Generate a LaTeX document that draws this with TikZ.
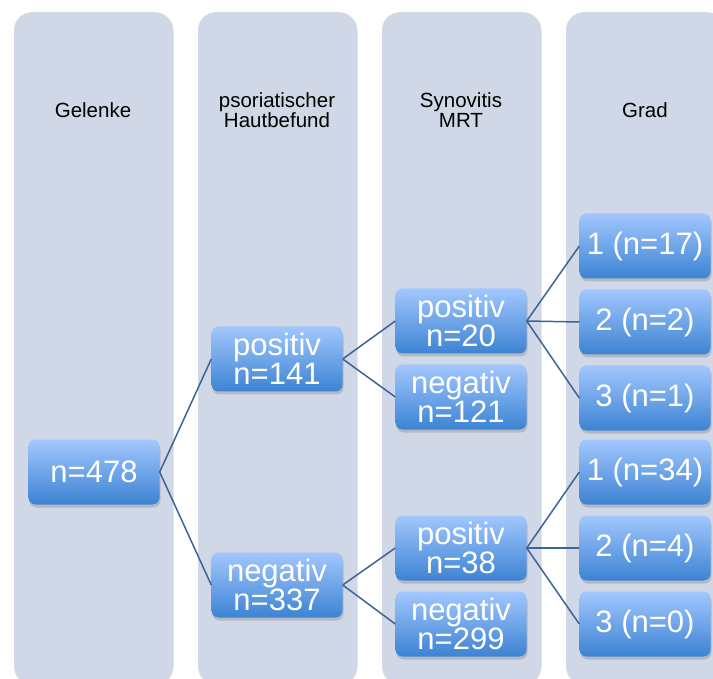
\documentclass[tikz,border=0pt]{standalone}
\usepackage{fontspec}
\setmainfont{Liberation Sans}
\usetikzlibrary{shadows}
\definecolor{lanefill}{HTML}{D0D7E6}
\definecolor{boxtop}{HTML}{A2C7FD}
\definecolor{boxbot}{HTML}{3C83D3}
\definecolor{conncol}{HTML}{3C6496}
\tikzset{
  lane/.style={fill=lanefill, rounded corners=18pt, minimum width=159pt, minimum height=672pt, inner sep=0pt, anchor=north,
    drop shadow={shadow xshift=0.5pt, shadow yshift=-1pt, opacity=0.25}},
  head/.style={font=\fontsize{20.5}{18}\selectfont, align=center, text=black},
  box/.style={rounded corners=7pt, top color=boxtop, bottom color=boxbot, draw=none, text=white,
    minimum width=131pt, minimum height=65pt, inner sep=0pt, align=center,
    font=\fontsize{31}{27.5}\selectfont,
    drop shadow={shadow xshift=1pt, shadow yshift=-3pt, opacity=0.35}},
  conn/.style={draw=conncol, line width=1.5pt}
}
\begin{document}
\begin{tikzpicture}[x=1pt,y=-1pt]
\useasboundingbox (0,0) rectangle (713,679);
\clip (0,0) rectangle (713,679);
% lanes
\node[lane] (lane1) at (93.5,12) {};
\node[lane] (lane2) at (277.5,12) {};
\node[lane] (lane3) at (461.5,12) {};
\node[lane] (lane4) at (645.5,12) {};
% headers
\node[head] (h1) at (93,110) {Gelenke};
\node[head] (h2) at (277,110) {psoriatischer\\Hautbefund};
\node[head] (h3) at (461,110) {Synovitis\\MRT};
\node[head] (h4) at (645,110) {Grad};
% boxes
\node[box] (n478) at (94,472) {n=478};
\node[box] (p141) at (277,359) {positiv\\n=141};
\node[box] (n337) at (277,585) {negativ\\n=337};
\node[box] (p20) at (461,321) {positiv\\n=20};
\node[box] (n121) at (461,397) {negativ\\n=121};
\node[box] (p38) at (461,548) {positiv\\n=38};
\node[box] (n299) at (461,624) {negativ\\n=299};
\node[box] (g1a) at (645,246) {1 (n=17)};
\node[box] (g2a) at (645,322) {2 (n=2)};
\node[box] (g3a) at (645,398) {3 (n=1)};
\node[box] (g1b) at (645,472) {1 (n=34)};
\node[box] (g2b) at (645,548) {2 (n=4)};
\node[box] (g3b) at (645,624) {3 (n=0)};
% connectors
\draw[conn] (n478.east) -- (p141.west);
\draw[conn] (n478.east) -- (n337.west);
\draw[conn] (p141.east) -- (p20.west);
\draw[conn] (p141.east) -- (n121.west);
\draw[conn] (n337.east) -- (p38.west);
\draw[conn] (n337.east) -- (n299.west);
\draw[conn] (p20.east) -- (g1a.west);
\draw[conn] (p20.east) -- (g2a.west);
\draw[conn] (p20.east) -- (g3a.west);
\draw[conn] (p38.east) -- (g1b.west);
\draw[conn] (p38.east) -- (g2b.west);
\draw[conn] (p38.east) -- (g3b.west);
\end{tikzpicture}
\end{document}
